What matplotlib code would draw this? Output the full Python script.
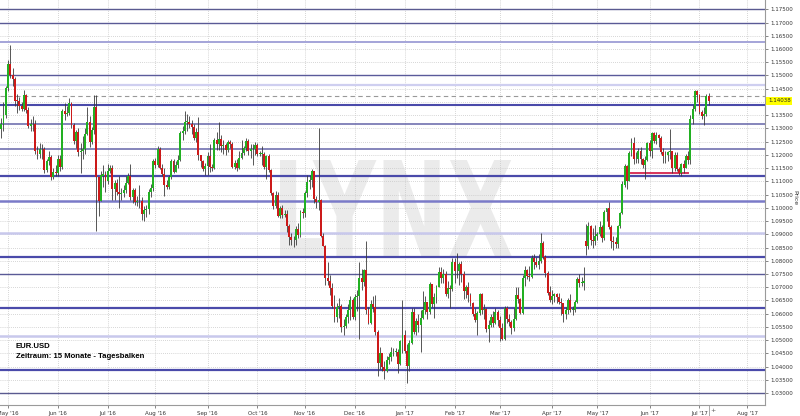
import numpy as np
import matplotlib
matplotlib.use("Agg")
import matplotlib.pyplot as plt
import pandas as pd
from matplotlib.textpath import TextPath
from matplotlib.font_manager import FontProperties
from matplotlib.patches import PathPatch
from matplotlib.transforms import Affine2D, blended_transform_factory

# daily closes / highs / lows, EUR.USD, grouped by month (business days)
close_apr16 = [1.1262, 1.1297, 1.1316, 1.1352, 1.1453]
high_apr16 = [1.1280, 1.1305, 1.1340, 1.1398, 1.1462]
low_apr16 = [1.1217, 1.1250, 1.1265, 1.1290, 1.1340]

close_may16 = [1.1543, 1.1500, 1.1488, 1.1405, 1.1404, 1.1385, 1.1374, 1.1428, 1.1370, 1.1310, 1.1315,
               1.1315, 1.1216, 1.1205, 1.1223, 1.1221, 1.1142, 1.1177, 1.1193, 1.1116, 1.1135, 1.1130]
high_may16 = [1.1560, 1.1616, 1.1530, 1.1495, 1.1430, 1.1420, 1.1400, 1.1445, 1.1430, 1.1380, 1.1335,
              1.1345, 1.1330, 1.1235, 1.1245, 1.1240, 1.1230, 1.1185, 1.1215, 1.1200, 1.1150, 1.1160]
low_may16 = [1.1440, 1.1490, 1.1460, 1.1385, 1.1360, 1.1370, 1.1365, 1.1365, 1.1360, 1.1300, 1.1290,
             1.1290, 1.1205, 1.1185, 1.1190, 1.1185, 1.1130, 1.1135, 1.1160, 1.1105, 1.1110, 1.1120]

close_jun16 = [1.1185, 1.1153, 1.1366, 1.1355, 1.1359, 1.1396, 1.1313, 1.1253, 1.1285, 1.1212, 1.1216,
               1.1221, 1.1277, 1.1323, 1.1248, 1.1294, 1.1380, 1.1116, 1.1027, 1.1122, 1.1127, 1.1103]
high_jun16 = [1.1200, 1.1200, 1.1375, 1.1395, 1.1385, 1.1416, 1.1400, 1.1320, 1.1295, 1.1300, 1.1245,
              1.1270, 1.1300, 1.1380, 1.1348, 1.1305, 1.1427, 1.1425, 1.1110, 1.1140, 1.1160, 1.1140]
low_jun16 = [1.1120, 1.1140, 1.1145, 1.1330, 1.1345, 1.1350, 1.1300, 1.1240, 1.1225, 1.1195, 1.1130,
             1.1185, 1.1205, 1.1275, 1.1230, 1.1240, 1.1280, 1.0912, 1.0970, 1.1025, 1.1080, 1.1060]

close_jul16 = [1.1139, 1.1150, 1.1070, 1.1092, 1.1061, 1.1053, 1.1056, 1.1067, 1.1094, 1.1121, 1.1040,
               1.1068, 1.1022, 1.1025, 1.1027, 1.0976, 1.0993, 1.0995, 1.1058, 1.1074, 1.1175]
high_jul16 = [1.1165, 1.1160, 1.1160, 1.1105, 1.1110, 1.1120, 1.1075, 1.1085, 1.1120, 1.1130, 1.1165,
              1.1075, 1.1075, 1.1045, 1.1085, 1.1040, 1.1005, 1.1010, 1.1070, 1.1090, 1.1185]
low_jul16 = [1.1090, 1.1130, 1.1030, 1.1030, 1.1050, 1.1000, 1.1030, 1.1040, 1.1055, 1.1090, 1.1030,
             1.1020, 1.1010, 1.1005, 1.1000, 1.0955, 1.0952, 1.0965, 1.0975, 1.1040, 1.1065]

close_aug16 = [1.1163, 1.1222, 1.1151, 1.1128, 1.1086, 1.1080, 1.1116, 1.1176, 1.1136, 1.1163, 1.1182, 1.1284,
               1.1290, 1.1324, 1.1325, 1.1317, 1.1306, 1.1264, 1.1286, 1.1198, 1.1176, 1.1147, 1.1157]
high_aug16 = [1.1190, 1.1234, 1.1230, 1.1165, 1.1150, 1.1105, 1.1125, 1.1185, 1.1185, 1.1175, 1.1200, 1.1290,
              1.1310, 1.1366, 1.1355, 1.1345, 1.1330, 1.1315, 1.1300, 1.1342, 1.1200, 1.1180, 1.1170]
low_aug16 = [1.1150, 1.1155, 1.1145, 1.1120, 1.1045, 1.1070, 1.1070, 1.1110, 1.1130, 1.1135, 1.1150, 1.1175,
             1.1255, 1.1280, 1.1290, 1.1300, 1.1280, 1.1255, 1.1250, 1.1180, 1.1155, 1.1140, 1.1123]

close_sep16 = [1.1196, 1.1155, 1.1149, 1.1255, 1.1240, 1.1261, 1.1232, 1.1236, 1.1219, 1.1250, 1.1241,
               1.1155, 1.1169, 1.1151, 1.1187, 1.1207, 1.1225, 1.1254, 1.1215, 1.1221, 1.1221, 1.1239]
high_sep16 = [1.1210, 1.1240, 1.1165, 1.1265, 1.1285, 1.1325, 1.1275, 1.1255, 1.1245, 1.1255, 1.1255,
              1.1250, 1.1180, 1.1185, 1.1215, 1.1255, 1.1235, 1.1262, 1.1260, 1.1240, 1.1240, 1.1250]
low_sep16 = [1.1123, 1.1135, 1.1140, 1.1145, 1.1220, 1.1220, 1.1210, 1.1205, 1.1200, 1.1210, 1.1225,
             1.1150, 1.1145, 1.1140, 1.1145, 1.1185, 1.1200, 1.1215, 1.1200, 1.1190, 1.1160, 1.1200]

close_oct16 = [1.1205, 1.1205, 1.1205, 1.1153, 1.1197, 1.1141, 1.1057, 1.1006, 1.1050, 1.0970, 1.0998,
               1.0972, 1.0975, 1.0930, 1.0888, 1.0880, 1.0877, 1.0920, 1.0897, 1.0985, 1.0981]
high_oct16 = [1.1245, 1.1215, 1.1235, 1.1210, 1.1200, 1.1205, 1.1145, 1.1060, 1.1065, 1.1060, 1.1005,
              1.1010, 1.0990, 1.0990, 1.0940, 1.0905, 1.0895, 1.0930, 1.0942, 1.0990, 1.1000]
low_oct16 = [1.1195, 1.1195, 1.1160, 1.1145, 1.1110, 1.1135, 1.1050, 1.0995, 1.1000, 1.0965, 1.0960,
             1.0960, 1.0965, 1.0910, 1.0860, 1.0860, 1.0852, 1.0860, 1.0885, 1.0890, 1.0960]

close_nov16 = [1.1055, 1.1097, 1.1104, 1.1138, 1.1034, 1.1023, 1.1028, 1.0893, 1.0856, 1.0734, 1.0724,
               1.0696, 1.0630, 1.0588, 1.0626, 1.0629, 1.0551, 1.0552, 1.0588, 1.0615, 1.0650, 1.0587]
high_nov16 = [1.1065, 1.1125, 1.1125, 1.1145, 1.1090, 1.1045, 1.1300, 1.1035, 1.0905, 1.0860, 1.0795,
              1.0745, 1.0715, 1.0670, 1.0640, 1.0660, 1.0635, 1.0580, 1.0600, 1.0635, 1.0666, 1.0660]
low_nov16 = [1.0965, 1.1040, 1.1070, 1.1080, 1.1020, 1.1000, 1.0990, 1.0890, 1.0855, 1.0710, 1.0710,
             1.0670, 1.0620, 1.0570, 1.0570, 1.0585, 1.0530, 1.0520, 1.0545, 1.0565, 1.0575, 1.0580]

close_dec16 = [1.0664, 1.0665, 1.0735, 1.0720, 1.0765, 1.0613, 1.0565, 1.0637, 1.0625, 1.0532, 1.0413,
               1.0451, 1.0400, 1.0383, 1.0426, 1.0437, 1.0454, 1.0456, 1.0456, 1.0409, 1.0496, 1.0521]
high_dec16 = [1.0675, 1.0690, 1.0796, 1.0770, 1.0770, 1.0874, 1.0625, 1.0650, 1.0665, 1.0670, 1.0540,
              1.0475, 1.0450, 1.0420, 1.0440, 1.0450, 1.0475, 1.0470, 1.0470, 1.0465, 1.0500, 1.0652]
low_dec16 = [1.0575, 1.0610, 1.0505, 1.0690, 1.0705, 1.0600, 1.0560, 1.0560, 1.0605, 1.0520, 1.0366,
             1.0390, 1.0385, 1.0352, 1.0380, 1.0410, 1.0420, 1.0440, 1.0440, 1.0375, 1.0405, 1.0450]

close_jan17 = [1.0459, 1.0404, 1.0490, 1.0607, 1.0531, 1.0574, 1.0557, 1.0583, 1.0613, 1.0645, 1.0605,
               1.0711, 1.0636, 1.0662, 1.0700, 1.0757, 1.0735, 1.0750, 1.0676, 1.0697, 1.0693, 1.0797]
high_jan17 = [1.0540, 1.0485, 1.0500, 1.0620, 1.0620, 1.0585, 1.0600, 1.0615, 1.0685, 1.0665, 1.0640,
              1.0720, 1.0710, 1.0680, 1.0710, 1.0775, 1.0775, 1.0770, 1.0760, 1.0725, 1.0710, 1.0810]
low_jan17 = [1.0450, 1.0340, 1.0385, 1.0485, 1.0525, 1.0520, 1.0530, 1.0455, 1.0580, 1.0600, 1.0580,
             1.0600, 1.0625, 1.0585, 1.0640, 1.0705, 1.0715, 1.0715, 1.0665, 1.0660, 1.0620, 1.0685]

close_feb17 = [1.0760, 1.0763, 1.0786, 1.0749, 1.0686, 1.0701, 1.0672, 1.0642, 1.0600, 1.0575,
               1.0602, 1.0676, 1.0614, 1.0616, 1.0541, 1.0557, 1.0586, 1.0563, 1.0605, 1.0575]
high_feb17 = [1.0810, 1.0829, 1.0795, 1.0800, 1.0760, 1.0710, 1.0720, 1.0680, 1.0645, 1.0620,
              1.0610, 1.0680, 1.0680, 1.0635, 1.0620, 1.0575, 1.0600, 1.0610, 1.0620, 1.0615]
low_feb17 = [1.0715, 1.0735, 1.0710, 1.0720, 1.0655, 1.0660, 1.0645, 1.0630, 1.0590, 1.0570,
             1.0520, 1.0595, 1.0600, 1.0580, 1.0530, 1.0494, 1.0550, 1.0550, 1.0560, 1.0555]

close_mar17 = [1.0545, 1.0506, 1.0620, 1.0580, 1.0567, 1.0545, 1.0581, 1.0672, 1.0657, 1.0603, 1.0733, 1.0766,
               1.0741, 1.0740, 1.0809, 1.0794, 1.0783, 1.0798, 1.0866, 1.0815, 1.0752, 1.0680, 1.0652]
high_mar17 = [1.0590, 1.0565, 1.0630, 1.0630, 1.0600, 1.0575, 1.0620, 1.0700, 1.0700, 1.0660, 1.0746, 1.0780,
              1.0770, 1.0780, 1.0820, 1.0825, 1.0815, 1.0825, 1.0906, 1.0875, 1.0820, 1.0760, 1.0705]
low_mar17 = [1.0495, 1.0500, 1.0500, 1.0565, 1.0555, 1.0525, 1.0535, 1.0575, 1.0640, 1.0600, 1.0600, 1.0705,
             1.0730, 1.0725, 1.0735, 1.0770, 1.0775, 1.0770, 1.0790, 1.0805, 1.0740, 1.0670, 1.0645]

close_apr17 = [1.0667, 1.0674, 1.0664, 1.0645, 1.0640, 1.0600, 1.0615, 1.0650, 1.0614, 1.0614,
               1.0643, 1.0732, 1.0717, 1.0717, 1.0725, 1.0855, 1.0932, 1.0880, 1.0874, 1.0895]
high_apr17 = [1.0690, 1.0680, 1.0680, 1.0680, 1.0660, 1.0640, 1.0625, 1.0660, 1.0675, 1.0630,
              1.0650, 1.0738, 1.0750, 1.0740, 1.0775, 1.0937, 1.0945, 1.0935, 1.0925, 1.0935]
low_apr17 = [1.0635, 1.0645, 1.0640, 1.0635, 1.0595, 1.0570, 1.0580, 1.0600, 1.0605, 1.0595,
             1.0605, 1.0640, 1.0700, 1.0705, 1.0690, 1.0822, 1.0845, 1.0860, 1.0850, 1.0860]

close_may17 = [1.0902, 1.0928, 1.0885, 1.0983, 1.0998, 1.0928, 1.0875, 1.0870, 1.0862, 1.0933, 1.0979, 1.1088,
               1.1159, 1.1102, 1.1207, 1.1245, 1.1183, 1.1184, 1.1214, 1.1183, 1.1163, 1.1181, 1.1243]
high_may17 = [1.0910, 1.0950, 1.0935, 1.0990, 1.1000, 1.1023, 1.0935, 1.0895, 1.0890, 1.0935, 1.0985, 1.1100,
              1.1165, 1.1160, 1.1215, 1.1265, 1.1268, 1.1210, 1.1225, 1.1230, 1.1190, 1.1195, 1.1250]
low_may17 = [1.0880, 1.0895, 1.0870, 1.0880, 1.0950, 1.0920, 1.0850, 1.0839, 1.0850, 1.0850, 1.0925, 1.0975,
             1.1080, 1.1070, 1.1100, 1.1195, 1.1165, 1.1170, 1.1170, 1.1165, 1.1150, 1.1109, 1.1175]

close_jun17 = [1.1213, 1.1281, 1.1254, 1.1275, 1.1262, 1.1211, 1.1195, 1.1200, 1.1211, 1.1215, 1.1150,
               1.1198, 1.1145, 1.1132, 1.1165, 1.1151, 1.1195, 1.1180, 1.1335, 1.1375, 1.1440, 1.1425]
high_jun17 = [1.1255, 1.1285, 1.1285, 1.1285, 1.1280, 1.1270, 1.1225, 1.1215, 1.1215, 1.1296, 1.1215,
              1.1210, 1.1210, 1.1155, 1.1170, 1.1180, 1.1205, 1.1215, 1.1350, 1.1390, 1.1445, 1.1445]
low_jun17 = [1.1195, 1.1190, 1.1245, 1.1240, 1.1230, 1.1205, 1.1170, 1.1170, 1.1175, 1.1185, 1.1130,
             1.1140, 1.1140, 1.1125, 1.1120, 1.1130, 1.1150, 1.1165, 1.1165, 1.1315, 1.1365, 1.1400]

close_jul17 = [1.1362, 1.1348, 1.1353, 1.1424, 1.14038]
high_jul17 = [1.1430, 1.1370, 1.1380, 1.1430, 1.1435]
low_jul17 = [1.1355, 1.1335, 1.1312, 1.1345, 1.1390]

first_open = 1.1225
open_gaps = {"2017-04-24": 1.0874}  # weekend gap (French election)

# horizontal support / resistance lines: level, colour, width
sr_levels = [1.1750, 1.1697, 1.1628, 1.1500, 1.1464, 1.1387, 1.1316, 1.1221, 1.1120,
             1.1026, 1.0906, 1.0816, 1.0750, 1.0621, 1.0517, 1.0388, 1.0300]
sr_colors = ["#5a5a90", "#5a5a96", "#a4a4d8", "#5a5a9a", "#cfcff0", "#4a4aaa", "#6464a8", "#6464a8", "#4a4aaa",
             "#7a7ac8", "#c8c8ec", "#4a4aaa", "#5a5a96", "#4a4aaa", "#c8c8ec", "#4a4aaa", "#5a5a90"]
sr_widths = [1.0, 1.0, 1.4, 1.0, 1.6, 1.5, 1.1, 1.1, 1.6, 1.8, 1.8, 1.6, 1.0, 1.6, 1.8, 1.6, 1.0]
dashed_level = 1.1422
red_line = ("2017-05-22", "2017-06-26", 1.1130)
last_price = 1.14038

closes = (close_apr16 + close_may16 + close_jun16 + close_jul16 + close_aug16 + close_sep16 + close_oct16
          + close_nov16 + close_dec16 + close_jan17 + close_feb17 + close_mar17 + close_apr17 + close_may17
          + close_jun17 + close_jul17)
highs = (high_apr16 + high_may16 + high_jun16 + high_jul16 + high_aug16 + high_sep16 + high_oct16
         + high_nov16 + high_dec16 + high_jan17 + high_feb17 + high_mar17 + high_apr17 + high_may17
         + high_jun17 + high_jul17)
lows = (low_apr16 + low_may16 + low_jun16 + low_jul16 + low_aug16 + low_sep16 + low_oct16
        + low_nov16 + low_dec16 + low_jan17 + low_feb17 + low_mar17 + low_apr17 + low_may17
        + low_jun17 + low_jul17)

all_days = pd.bdate_range("2016-04-25", "2017-08-31")
dates = all_days[:len(closes)]
df = pd.DataFrame({"close": closes, "high": highs, "low": lows}, index=dates)
df["open"] = df["close"].shift(1)
df.iloc[0, df.columns.get_loc("open")] = first_open
for d, o in open_gaps.items():
    df.loc[pd.Timestamp(d), "open"] = o
df["high"] = df[["high", "open", "close"]].max(axis=1)
df["low"] = df[["low", "open", "close"]].min(axis=1)
x = np.arange(len(df))

W, H = 800, 416
fig = plt.figure(figsize=(W / 100, H / 100), dpi=100)
fig.patch.set_facecolor("white")
ax = fig.add_axes([0, 11 / H, 765 / W, 405 / H])
ax.set_facecolor("white")

# watermark, behind everything in the axes
tp = TextPath((0, 0), "LYNX", prop=FontProperties(family="DejaVu Sans", weight="bold"), size=100)
ext = tp.get_extents()
wx0, wx1, wy0, wy1 = 280 / W, 512 / W, 1 - 257 / H, 1 - 160 / H
tr = (Affine2D().translate(-ext.x0, -ext.y0)
      .scale((wx1 - wx0) / ext.width, (wy1 - wy0) / ext.height)
      .translate(wx0, wy0) + fig.transFigure)
wm = PathPatch(tp, transform=tr, facecolor="#ebebeb", edgecolor="none", zorder=0.5)
ax.add_artist(wm)

# grid
yt = np.round(np.arange(1.030, 1.1751, 0.005), 3)
month_pos = [all_days.get_loc(all_days[all_days.to_period("M") == p][0])
             for p in pd.period_range("2016-05", "2017-08", freq="M")]
month_lab = [all_days[i].strftime("%b '%y") for i in month_pos]
for v in yt:
    ax.axhline(v, color="#c8c8c8", lw=0.6, ls=(0, (1, 1.5)), zorder=1)
for m in month_pos:
    ax.axvline(m, color="#c8c8c8", lw=0.6, ls=(0, (1, 1.5)), zorder=1)

for lv, c, w in zip(sr_levels, sr_colors, sr_widths):
    ax.axhline(lv, color=c, lw=w, zorder=2)
ax.axhline(dashed_level, color="#999999", lw=0.8, ls=(0, (4, 3)), zorder=2)
r0 = dates.get_loc(pd.Timestamp(red_line[0]))
r1 = dates.get_loc(pd.Timestamp(red_line[1]))
ax.plot([r0, r1], [red_line[2], red_line[2]], color="#d8335a", lw=1.4, zorder=3)

# candles
up = df["close"] >= df["open"]
ax.vlines(x, df["low"], df["high"], color="#3a3a3a", lw=0.6, zorder=4)
body_lo = df[["open", "close"]].min(axis=1)
body_h = (df["close"] - df["open"]).abs().clip(lower=0.00025)
ax.bar(x[up], body_h[up], bottom=body_lo[up], width=0.85, color="#22b022",
       edgecolor="none", zorder=5)
ax.bar(x[~up], body_h[~up], bottom=body_lo[~up], width=0.85, color="#cc1a1a",
       edgecolor="none", zorder=5)

# axes; the tick label under the price box is left out, as in the reference
ax.set_xlim(1.47, 338.9)
ax.set_ylim(1.0255, 1.1785)
ax.yaxis.tick_right()
ax.set_yticks(yt)
ax.set_yticklabels(["" if abs(v - last_price) < 0.002 else f"{v:.5f}" for v in yt])
ax.set_xticks(month_pos)
ax.set_xticklabels(month_lab)
ax.tick_params(axis="both", labelsize=4.0, colors="#555555", length=2, width=0.5,
               labelcolor="#333333", pad=2)
for s in ["top", "left"]:
    ax.spines[s].set_visible(False)
for s in ["right", "bottom"]:
    ax.spines[s].set_color("#9a9a9a")
    ax.spines[s].set_linewidth(0.8)

bt = blended_transform_factory(ax.transAxes, ax.transData)
ax.text(1.004, last_price, f"{last_price:.5f}", transform=bt, fontsize=4.0, va="center", ha="left",
        color="#222222", bbox=dict(boxstyle="square,pad=0.3", fc="#ffff00", ec="none"), zorder=10)

fig.text(795 / W, 1 - 198 / H, "Price", rotation=-90, fontsize=4.4, color="#333333", ha="center", va="center")
fig.text(16 / W, 1 - 346 / H, "EUR.USD", fontsize=5.6, weight="bold", family="Liberation Sans", va="center")
fig.text(16 / W, 1 - 357 / H, "Zeitraum: 15 Monate - Tagesbalken", fontsize=5.6, weight="bold",
         family="Liberation Sans", va="center")
fig.add_artist(plt.Line2D([709 / W, 709 / W], [0, 11 / H], color="#9a9a9a", lw=0.6))
fig.text(713 / W, 1 - 411 / H, "+", fontsize=4.5, color="#555555", ha="center", va="center")

fig.savefig("out.png", dpi=100)
